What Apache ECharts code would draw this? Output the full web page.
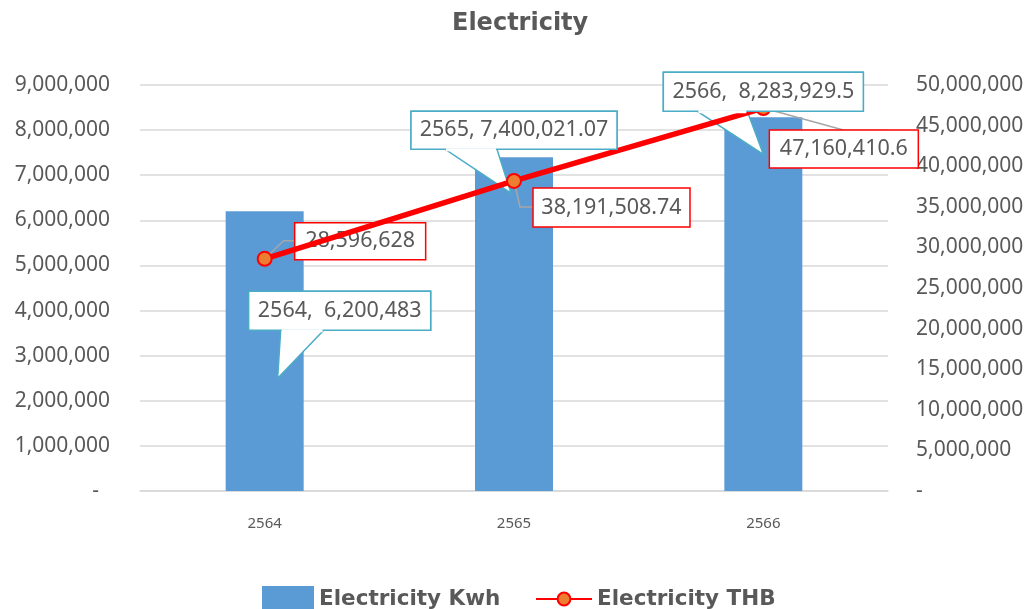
<!DOCTYPE html>
<html>
<head>
<meta charset="utf-8">
<script src="https://cdn.jsdelivr.net/npm/echarts@6/dist/echarts.min.js"></script>
<style>
html,body{margin:0;padding:0;background:#fff;}
#chart{width:1031px;height:609px;}
</style>
</head>
<body>
<div id="chart"></div>
<script>
// ---- data ----
const years = ['2564', '2565', '2566'];
const kwhValues = [6200483, 7400021.07, 8283929.5];
const thbValues = [28596628, 38191508.74, 47160410.6];
const leftTicks = [0, 9000000, 1000000];   // min, max, interval
const rightTicks = [0, 50000000, 5000000]; // min, max, interval
const calloutSeparators = [',  ', ', ', ',  '];

// ---- layout (pixel offsets relative to the data point) ----
const barCalloutLayout = [
  { box: [-16, 80, 166, 119], base: [16, 59], tip: [13, 167] },
  { box: [-103, -46, 103, -8], base: [-69, -17], tip: [-3, 36] },
  { box: [-100, -45, 100, -6], base: [-66, -16], tip: [0, 37] }
];
const lineLabelLayout = [
  { box: [30, -36, 161, 1], leader: [[0, 0], [19, -18], [30, -18]] },
  { box: [19, 7, 176, 46], leader: [[0, 0], [6, 26], [19, 26]] },
  { box: [6, 22, 155, 60], leader: [[0, 0], [80, 22]] }
];

const fmt = v => v.toLocaleString('en-US', { maximumFractionDigits: 2 });
const TEXT = '#595959';
const LABEL_FONT = '21.5px "Noto Sans"';

const chart = echarts.init(document.getElementById('chart'));

function calloutPolygon(api, i, onlyBox) {
  const p = api.coord([api.value(0), api.value(1)]);
  const L = barCalloutLayout[i];
  const x0 = p[0] + L.box[0], y0 = p[1] + L.box[1], x1 = p[0] + L.box[2], y1 = p[1] + L.box[3];
  const children = [];
  if (!onlyBox) {
    children.push({
      type: 'polygon',
      shape: { points: [[x0, y0], [x1, y0], [x1, y1], [p[0] + L.base[1], y1], [p[0] + L.tip[0], p[1] + L.tip[1]], [p[0] + L.base[0], y1], [x0, y1]] },
      style: { fill: '#fff', stroke: '#4bacc6', lineWidth: 1.5 }
    });
  } else {
    children.push({
      type: 'rect',
      shape: { x: x0, y: y0, width: x1 - x0, height: y1 - y0 },
      style: { fill: '#fff', stroke: '#4bacc6', lineWidth: 1.5 }
    });
    children.push({
      type: 'rect',
      shape: { x: p[0] + L.base[0] + 1, y: y1 - 1, width: L.base[1] - L.base[0] - 2, height: 3 },
      style: { fill: '#fff' }
    });
    children.push({
      type: 'text',
      style: {
        text: years[i] + calloutSeparators[i] + fmt(kwhValues[i]),
        x: (x0 + x1) / 2, y: (y0 + y1) / 2,
        align: 'center', verticalAlign: 'middle',
        fill: TEXT, font: LABEL_FONT
      }
    });
  }
  return { type: 'group', children };
}

const option = {
  animation: false,
  backgroundColor: '#fff',
  title: {
    text: 'Electricity',
    left: 447,
    top: 7,
    textStyle: { fontFamily: 'DejaVu Sans', fontWeight: 'bold', fontSize: 24, color: TEXT }
  },
  legend: [
    {
      data: [{ name: 'Electricity Kwh', icon: 'rect' }],
      left: 262, top: 586, padding: 0,
      itemWidth: 52, itemHeight: 26, itemGap: 20,
      textStyle: { fontFamily: 'DejaVu Sans', fontWeight: 'bold', fontSize: 21.5, color: TEXT }
    },
    {
      data: ['Electricity THB'],
      left: 535, top: 588, padding: 0,
      itemWidth: 56, itemHeight: 16,
      textStyle: { fontFamily: 'DejaVu Sans', fontWeight: 'bold', fontSize: 21.5, color: TEXT }
    }
  ],
  grid: { left: 140, right: 143, top: 85, bottom: 118, containLabel: false },
  xAxis: {
    type: 'category',
    data: years,
    axisLine: { lineStyle: { color: '#d9d9d9', width: 1.5 } },
    axisTick: { show: false },
    axisLabel: { color: TEXT, fontFamily: 'Noto Sans', fontSize: 15, margin: 25 }
  },
  yAxis: [
    {
      type: 'value',
      min: leftTicks[0], max: leftTicks[1], interval: leftTicks[2],
      axisLine: { show: false }, axisTick: { show: false },
      splitLine: { lineStyle: { color: '#d9d9d9', width: 1.5 } },
      axisLabel: {
        color: TEXT, fontFamily: 'Noto Sans', fontSize: 21, margin: 30,
        formatter: v => v === 0 ? '-  ' : fmt(v)
      }
    },
    {
      type: 'value',
      min: rightTicks[0], max: rightTicks[1], interval: rightTicks[2],
      axisLine: { show: false }, axisTick: { show: false },
      splitLine: { show: false },
      axisLabel: {
        color: TEXT, fontFamily: 'Noto Sans', fontSize: 21, margin: 28,
        formatter: v => v === 0 ? '-' : fmt(v)
      }
    }
  ],
  series: [
    {
      name: 'Electricity Kwh',
      type: 'bar',
      data: kwhValues,
      barWidth: 78,
      itemStyle: { color: '#5b9bd5' },
      z: 2
    },
    {
      type: 'custom',
      name: 'thbLabels',
      yAxisIndex: 1,
      clip: false,
      z: 3,
      silent: true,
      data: thbValues.map((v, i) => [i, v]),
      encode: { x: 0, y: 1 },
      renderItem: (params, api) => {
        const i = params.dataIndex;
        const p = api.coord([api.value(0), api.value(1)]);
        const L = lineLabelLayout[i];
        const x0 = p[0] + L.box[0], y0 = p[1] + L.box[1], x1 = p[0] + L.box[2], y1 = p[1] + L.box[3];
        return {
          type: 'group',
          children: [
            { type: 'polyline', shape: { points: L.leader.map(d => [p[0] + d[0], p[1] + d[1]]) }, style: { stroke: '#a6a6a6', lineWidth: 1.5, fill: null } },
            { type: 'rect', shape: { x: x0, y: y0, width: x1 - x0, height: y1 - y0 }, style: { fill: '#fff', stroke: '#ff0000', lineWidth: 1.5 } },
            { type: 'text', style: { text: fmt(thbValues[i]), x: (x0 + x1) / 2, y: (y0 + y1) / 2, align: 'center', verticalAlign: 'middle', fill: TEXT, font: LABEL_FONT } }
          ]
        };
      }
    },
    {
      type: 'custom',
      name: 'kwhPointers',
      yAxisIndex: 0,
      clip: false,
      z: 3,
      silent: true,
      data: kwhValues.map((v, i) => [i, v]),
      encode: { x: 0, y: 1 },
      renderItem: (params, api) => calloutPolygon(api, params.dataIndex, false)
    },
    {
      name: 'Electricity THB',
      type: 'line',
      yAxisIndex: 1,
      data: thbValues,
      symbol: 'circle',
      symbolSize: 14,
      lineStyle: { color: '#ff0000', width: 5.5 },
      itemStyle: { color: '#ed7d31', borderColor: '#ff0000', borderWidth: 2 },
      z: 4
    },
    {
      type: 'custom',
      name: 'kwhBoxes',
      yAxisIndex: 0,
      clip: false,
      z: 5,
      silent: true,
      data: kwhValues.map((v, i) => [i, v]),
      encode: { x: 0, y: 1 },
      renderItem: (params, api) => calloutPolygon(api, params.dataIndex, true)
    }
  ]
};
chart.setOption(option);
</script>
</body>
</html>
